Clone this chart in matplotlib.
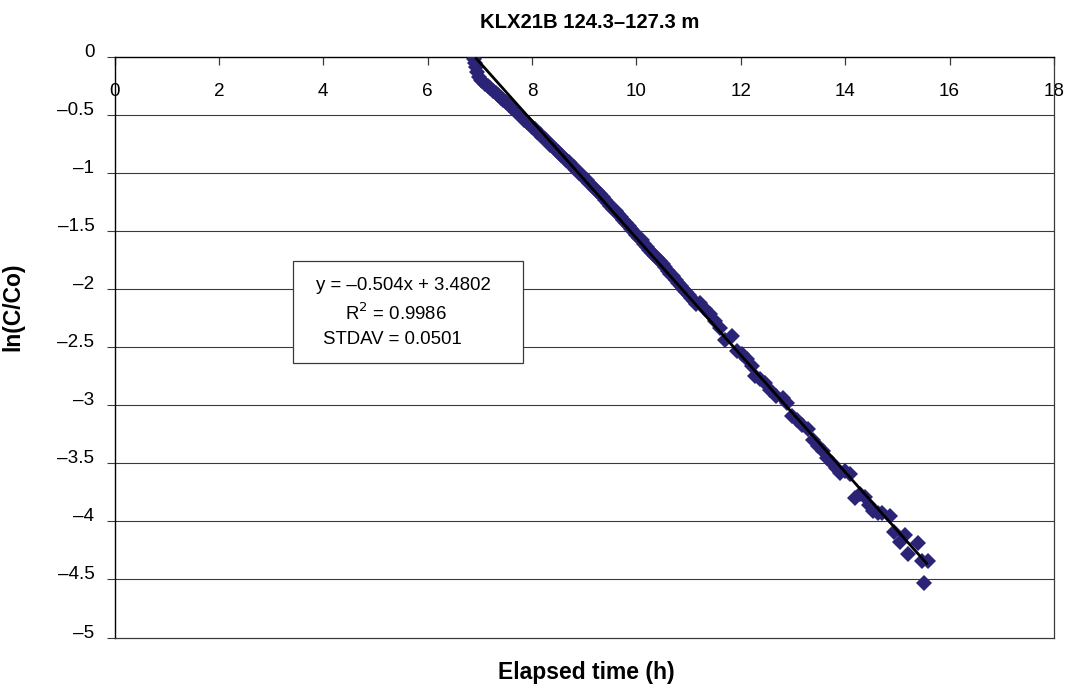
import matplotlib
matplotlib.use("Agg")
import matplotlib.pyplot as plt
from matplotlib.patches import Rectangle
from matplotlib.ticker import FuncFormatter
import numpy as np

plt.rcParams['font.family'] = ['Liberation Sans', 'DejaVu Sans']

# ---- data ----
elapsed_h = [
    6.88, 6.90, 6.92, 6.95, 6.98, 7.02, 7.05, 7.10, 7.15, 7.20, 7.25, 7.30, 7.35,
    7.40, 7.45, 7.50, 7.55, 7.60, 7.65, 7.70, 7.75, 7.80, 7.85, 7.90, 7.95,
    8.00, 8.05, 8.10, 8.15, 8.20, 8.25, 8.30, 8.35, 8.40, 8.45, 8.50, 8.55,
    8.60, 8.65, 8.70, 8.75, 8.80, 8.85, 8.90, 8.95, 9.00, 9.05, 9.10, 9.15,
    9.20, 9.25, 9.30, 9.35, 9.40, 9.45, 9.50, 9.55, 9.60, 9.65, 9.70, 9.75,
    9.80, 9.85, 9.90, 9.95, 10.00, 10.05, 10.10, 10.15, 10.20, 10.25, 10.30,
    10.35, 10.40, 10.45, 10.50, 10.55, 10.60, 10.65, 10.70, 10.75, 10.80,
    10.85, 10.90, 10.95, 11.00, 11.05, 11.10, 11.15,
    11.22, 11.32, 11.41, 11.50, 11.60, 11.69, 11.83, 11.92, 12.02, 12.12,
    12.21, 12.27, 12.36, 12.46, 12.56, 12.67, 12.81, 12.88, 12.98, 13.08,
    13.17, 13.28, 13.38, 13.47, 13.57, 13.65, 13.74, 13.82, 13.90, 14.00,
    14.09, 14.19, 14.29, 14.38, 14.45, 14.53, 14.62, 14.70, 14.85, 14.94,
    15.04, 15.14, 15.20, 15.39, 15.47, 15.58, 15.51,
]
ln_c_co = [
    -0.02, -0.05, -0.09, -0.13, -0.17, -0.20, -0.21, -0.23, -0.25, -0.27, -0.29, -0.31, -0.33,
    -0.35, -0.37, -0.39, -0.41, -0.43, -0.45, -0.47, -0.495, -0.52, -0.54, -0.56, -0.58,
    -0.60, -0.62, -0.645, -0.665, -0.69, -0.71, -0.73, -0.755, -0.775, -0.80, -0.82, -0.84,
    -0.86, -0.885, -0.905, -0.93, -0.95, -0.97, -0.995, -1.02, -1.04, -1.06, -1.085, -1.11,
    -1.135, -1.155, -1.18, -1.205, -1.23, -1.255, -1.28, -1.305, -1.33, -1.355, -1.38, -1.405,
    -1.43, -1.455, -1.48, -1.505, -1.53, -1.555, -1.58, -1.61, -1.635, -1.66, -1.685,
    -1.71, -1.735, -1.76, -1.785, -1.81, -1.84, -1.865, -1.89, -1.92, -1.945,
    -1.97, -1.995, -2.02, -2.05, -2.075, -2.10, -2.125,
    -2.12, -2.17, -2.21, -2.27, -2.33, -2.44, -2.40, -2.53, -2.56, -2.60,
    -2.66, -2.75, -2.77, -2.81, -2.87, -2.92, -2.94, -2.98, -3.09, -3.13,
    -3.17, -3.20, -3.30, -3.35, -3.39, -3.45, -3.50, -3.54, -3.58, -3.57,
    -3.59, -3.80, -3.76, -3.79, -3.86, -3.91, -3.93, -3.93, -3.95, -4.09,
    -4.18, -4.12, -4.28, -4.19, -4.34, -4.34, -4.53,
]
fit_slope = -0.504
fit_intercept = 3.4802
fit_r2 = 0.9986
fit_stdav = 0.0501
fit_x_range = [6.93, 15.56]
x_ticks = [0, 2, 4, 6, 8, 10, 12, 14, 16, 18]
y_ticks = [0, -0.5, -1, -1.5, -2, -2.5, -3, -3.5, -4, -4.5, -5]
title = "KLX21B 124.3\u2013127.3 m"
xlabel = "Elapsed time (h)"
ylabel = "ln(C/Co)"

# ---- figure ----
W, H = 1065, 686
fig = plt.figure(figsize=(W / 100, H / 100), dpi=100)
ax_l, ax_r, ax_t, ax_b = 114.5, 1054, 57, 637.5
ax = fig.add_axes([ax_l / W, 1 - ax_b / H, (ax_r - ax_l) / W, (ax_b - ax_t) / H])

ax.set_xlim(0, 18)
ax.set_ylim(-5, 0)

grid_col = '#3a3a3a'
for yv in y_ticks[1:-1]:
    ax.axhline(yv, color=grid_col, lw=0.8, zorder=1)

ax.plot(elapsed_h, ln_c_co, linestyle='none', marker='D', markersize=8.6,
        markeredgewidth=0, color='#2B2375', zorder=3)

xf = np.array(fit_x_range)
ax.plot(xf, fit_slope * xf + fit_intercept, color='black', lw=2.0, zorder=4)

# axes styling
for s in ['top', 'left']:
    ax.spines[s].set_color('black')
    ax.spines[s].set_linewidth(1.0)
for s in ['bottom', 'right']:
    ax.spines[s].set_color(grid_col)
    ax.spines[s].set_linewidth(0.9)

ax.xaxis.set_ticks_position('top')
ax.set_xticks(x_ticks)
ax.tick_params(axis='x', direction='in', length=5.5, width=0.9, color=grid_col,
               labelsize=13.6, pad=-31, labeltop=True, labelbottom=False)

ax.set_yticks(y_ticks)
ax.tick_params(axis='y', direction='out', length=6, width=0.8, color=grid_col,
               labelsize=13.6, pad=8.5)

def en_dash(v, pos):
    s = ('%g' % v)
    return s.replace('-', '\u2013')

ax.yaxis.set_major_formatter(FuncFormatter(en_dash))
for lab in ax.get_yticklabels():
    lab.set_verticalalignment('baseline')

ax.set_ylabel(ylabel, fontsize=16.5, fontweight='bold')
ax.yaxis.set_label_coords((24 - ax_l) / (ax_r - ax_l), (ax_b - 307) / (ax_b - ax_t))

fig.text(586 / W, 1 - 672 / H, xlabel, ha='center', va='center', fontsize=16.5, fontweight='bold')
fig.text(590 / W, 1 - 22 / H, title, ha='center', va='center', fontsize=14.6, fontweight='bold')

# trendline label box
bx0, by0, bx1, by1 = 293, 261, 523, 363
fig.patches.append(Rectangle((bx0 / W, 1 - by1 / H), (bx1 - bx0) / W, (by1 - by0) / H,
                             transform=fig.transFigure, facecolor='white',
                             edgecolor='#3a3a3a', lw=0.9, zorder=5))
lines = [
    ("y = %s%gx + %g" % ('\u2013' if fit_slope < 0 else '', abs(fit_slope), fit_intercept), 403, 285),
    ("R$^2$ = %g" % fit_r2, 396, 313),
    ("STDAV = %.4f" % fit_stdav, 392, 339),
]
for txt, cx, cy in lines:
    fig.text(cx / W, 1 - cy / H, txt, ha='center', va='center', fontsize=13.4, zorder=6)

fig.savefig('out.png', dpi=100, facecolor='white')
